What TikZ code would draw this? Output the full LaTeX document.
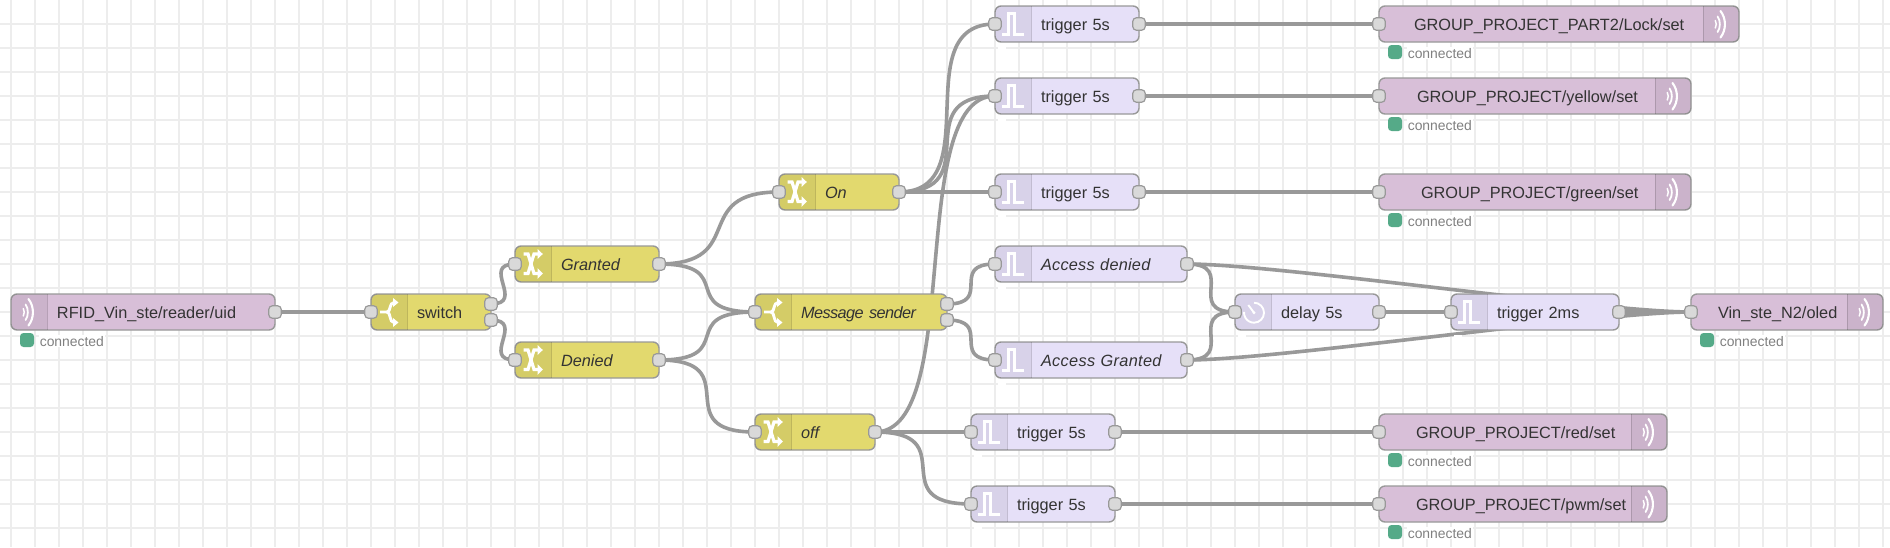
\documentclass[tikz,border=0pt]{standalone}
\usepackage{fontspec}
\setmainfont{Liberation Sans}
\usetikzlibrary{calc}
\pgfdeclarelayer{gridlayer}
\pgfdeclarelayer{wirelayer}
\pgfsetlayers{gridlayer,wirelayer,main}
\definecolor{mqttc}{HTML}{D8BFD8}
\definecolor{yelc}{HTML}{E2D96E}
\definecolor{trigc}{HTML}{E6E0F8}
\definecolor{dotc}{HTML}{55AA88}
\tikzset{
  x=1pt,y=-1pt,
  gridline/.style={draw=black!7,line width=1.7pt},
  wirestyle/.style={draw=black!40,line width=3.6pt},
  flowbody/.style={draw=black!40,line width=1.4pt,rounded corners=6pt,minimum height=36pt,
    inner xsep=0pt,inner ysep=0pt,outer sep=0pt,align=left,text height=12pt,text depth=0pt,
    text=black!80,font=\fontsize{16.3}{18}\selectfont},
  portbox/.style={draw=black!40,fill=black!15,line width=1.2pt,rounded corners=3.5pt,
    minimum width=12.4pt,minimum height=12.4pt,inner sep=0pt,outer sep=0pt},
  shade/.style={fill=black,fill opacity=.06},
  shadeline/.style={draw=black,draw opacity=.15,line width=1pt},
  iconline/.style={draw=white,line width=2.9pt},
  iconhead/.style={fill=white,draw=none},
  statusdot/.style={fill=dotc,draw=none,rounded corners=3.5pt,minimum size=14pt,inner sep=0pt},
  statustext/.style={anchor=base west,text=black!50,fill=white,inner sep=.6pt,font=\fontsize{13.9}{16}\selectfont},
}
\newcommand\wire[2]{\draw[wirestyle] let \p1=(#1.center),\p2=(#2.center),
  \n1={0.75*min(120,veclen(\x2-\x1,\y2-\y1))} in
  (#1.center) .. controls ([xshift=\n1]#1.center) and ([xshift=-\n1]#2.center) .. (#2.center);}
% name, left x, centre y, width, colour, text pad, text
\newcommand\flow[7]{\node[flowbody,fill=#5,minimum width=#4pt,text width=#4pt] (#1) at ({#2+#4/2},#3) {\hspace*{#6pt}#7};}
\newcommand\lshade[2]{\path[shade] (#1+36,#2-18) [rounded corners=6pt] -- (#1,#2-18) -- (#1,#2+18) [sharp corners] -- (#1+36,#2+18) -- cycle;
  \draw[shadeline] (#1+36,#2-18) -- (#1+36,#2+18);}
\newcommand\rshade[2]{\path[shade] (#1-36,#2-18) [rounded corners=6pt] -- (#1,#2-18) -- (#1,#2+18) [sharp corners] -- (#1-36,#2+18) -- cycle;
  \draw[shadeline] (#1-36,#2-18) -- (#1-36,#2+18);}
\newcommand\iconwave[2]{\begin{scope}[shift={(#1,#2-18)}]
  \draw[draw=white,line width=2.1pt,line cap=round] (17.5,5) .. controls (23.4,12.5) and (23.4,24) .. (17.5,31.5);
  \draw[draw=white,line width=1.8pt,line cap=round] (14.6,10.5) .. controls (17.6,14.5) and (17.6,22) .. (14.6,26);
  \draw[draw=white,line width=1.5pt,line cap=round] (12.3,14.5) .. controls (13.6,16.5) and (13.6,20) .. (12.3,22);
  \end{scope}}
\newcommand\iconswitch[2]{\begin{scope}[shift={(#1,#2-18)}]
  \draw[iconline] (9,18) -- (16,18) .. controls (20,18) and (18,8.5) .. (23,8.5);
  \draw[iconline] (16,18) .. controls (20,18) and (18,28.5) .. (23,28.5);
  \fill[iconhead] (22,4) -- (27.5,8.5) -- (22,13) -- cycle;
  \fill[iconhead] (22,24) -- (27.5,28.5) -- (22,33) -- cycle;
  \end{scope}}
\newcommand\iconchange[2]{\begin{scope}[shift={(#1,#2-18)}]
  \draw[draw=white,line width=3.2pt] (8.5,8) -- (13,8) -- (19,27.5) -- (23.5,27.5);
  \draw[draw=white,line width=3.2pt] (8.5,27.5) -- (13,27.5) -- (19,8) -- (23.5,8);
  \fill[iconhead] (22.5,3) -- (27.8,8) -- (22.5,13) -- cycle;
  \fill[iconhead] (22.5,22) -- (27.8,27.5) -- (22.5,33) -- cycle;
  \end{scope}}
\newcommand\icontrigger[2]{\begin{scope}[shift={(#1,#2-18)}]
  \draw[iconline] (7,28.3) -- (13.3,28.3) -- (13.3,7.5) -- (19.5,7.5) -- (19.5,28.3) -- (29.3,28.3);
  \fill[white] (3,41) rectangle (11,44.5);
  \end{scope}}
\newcommand\icondelay[2]{\begin{scope}[shift={(#1,#2-18)}]
  \draw[draw=white,line width=1.9pt] (19,8.7) arc[start angle=-90,end angle=185,radius=10];
  \draw[draw=white,line width=1.9pt] (19,18.7) -- (13.3,11);
  \fill[white] (19,18.7) circle (1.6);
  \fill[white] (3,41) rectangle (11,44.5);
  \end{scope}}
\newcommand\status[3]{\node[statusdot] (#1dot) at (#2+16,#3+46) {};
  \node[statustext] (#1stat) at (#2+28,#3+52) {connected};}
\newcommand\pin[1]{\node[portbox] (#1in) at (#1.west) {};}
\newcommand\pout[1]{\node[portbox] (#1out) at (#1.east) {};}
\begin{document}
\begin{tikzpicture}
\useasboundingbox (0,0) rectangle (1890,547);
\begin{pgfonlayer}{gridlayer}
  \fill[white] (0,0) rectangle (1890,547);
  \foreach \i in {0,...,78} \draw[gridline] ({11+24*\i},0) -- ({11+24*\i},547);
  \foreach \j in {1,...,22} \draw[gridline] (0,{24*\j}) -- (1890,{24*\j});
\end{pgfonlayer}

% left-icon nodes
\flow{rfid}{11}{312}{264}{mqttc}{46}{RFID\_Vin\_ste/reader/uid}
\lshade{11}{312}\iconwave{11}{312}\pout{rfid}\status{rfid}{11}{294}
\flow{sw}{371}{312}{120}{yelc}{46}{switch}
\lshade{371}{312}\iconswitch{371}{312}\pin{sw}
\node[portbox] (swoutA) at ([yshift=8pt]sw.east) {};
\node[portbox] (swoutB) at ([yshift=-8pt]sw.east) {};
\flow{gr}{515}{264}{144}{yelc}{46}{\textit{Granted}}
\lshade{515}{264}\iconchange{515}{264}\pin{gr}\pout{gr}
\flow{de}{515}{360}{144}{yelc}{46}{\textit{Denied}}
\lshade{515}{360}\iconchange{515}{360}\pin{de}\pout{de}
\flow{on}{779}{192}{120}{yelc}{46}{\textit{On}}
\lshade{779}{192}\iconchange{779}{192}\pin{on}\pout{on}
\flow{ms}{755}{312}{192}{yelc}{46}{\textit{\addfontfeature{LetterSpace=-3.5}Message sender}}
\lshade{755}{312}\iconswitch{755}{312}\pin{ms}
\node[portbox] (msoutA) at ([yshift=8pt]ms.east) {};
\node[portbox] (msoutB) at ([yshift=-8pt]ms.east) {};
\flow{of}{755}{432}{120}{yelc}{46}{\textit{off}}
\lshade{755}{432}\iconchange{755}{432}\pin{of}\pout{of}
% triggers
\flow{ta}{995}{24}{144}{trigc}{46}{trigger 5s}
\lshade{995}{24}\icontrigger{995}{24}\pin{ta}\pout{ta}
\flow{tb}{995}{96}{144}{trigc}{46}{trigger 5s}
\lshade{995}{96}\icontrigger{995}{96}\pin{tb}\pout{tb}
\flow{tc}{995}{192}{144}{trigc}{46}{trigger 5s}
\lshade{995}{192}\icontrigger{995}{192}\pin{tc}\pout{tc}
\flow{ad}{995}{264}{192}{trigc}{46}{\textit{\addfontfeature{LetterSpace=1.5}Access denied}}
\lshade{995}{264}\icontrigger{995}{264}\pin{ad}\pout{ad}
\flow{ag}{995}{360}{192}{trigc}{46}{\textit{\addfontfeature{LetterSpace=2}Access Granted}}
\lshade{995}{360}\icontrigger{995}{360}\pin{ag}\pout{ag}
\flow{dl}{1235}{312}{144}{trigc}{46}{delay 5s}
\lshade{1235}{312}\icondelay{1235}{312}\pin{dl}\pout{dl}
\flow{tm}{1451}{312}{168}{trigc}{46}{trigger 2ms}
\lshade{1451}{312}\icontrigger{1451}{312}\pin{tm}\pout{tm}
\flow{td}{971}{432}{144}{trigc}{46}{trigger 5s}
\lshade{971}{432}\icontrigger{971}{432}\pin{td}\pout{td}
\flow{te}{971}{504}{144}{trigc}{46}{trigger 5s}
\lshade{971}{504}\icontrigger{971}{504}\pin{te}\pout{te}
% MQTT out
\flow{ma}{1379}{24}{360}{mqttc}{35}{GROUP\_PROJECT\_PART2/Lock/set}
\rshade{1739}{24}\iconwave{1703}{24}\pin{ma}\status{ma}{1379}{6}
\flow{mb}{1379}{96}{312}{mqttc}{38}{GROUP\_PROJECT/yellow/set}
\rshade{1691}{96}\iconwave{1655}{96}\pin{mb}\status{mb}{1379}{78}
\flow{mc}{1379}{192}{312}{mqttc}{42}{GROUP\_PROJECT/green/set}
\rshade{1691}{192}\iconwave{1655}{192}\pin{mc}\status{mc}{1379}{174}
\flow{md}{1379}{432}{288}{mqttc}{37}{GROUP\_PROJECT/red/set}
\rshade{1667}{432}\iconwave{1631}{432}\pin{md}\status{md}{1379}{414}
\flow{me}{1379}{504}{288}{mqttc}{37}{GROUP\_PROJECT/pwm/set}
\rshade{1667}{504}\iconwave{1631}{504}\pin{me}\status{me}{1379}{486}
\flow{vn}{1691}{312}{192}{mqttc}{27}{Vin\_ste\_N2/oled}
\rshade{1883}{312}\iconwave{1847}{312}\pin{vn}\status{vn}{1691}{294}

\begin{pgfonlayer}{wirelayer}
  \wire{rfidout}{swin}
  \wire{swoutA}{grin}
  \wire{swoutB}{dein}
  \wire{grout}{onin}
  \wire{grout}{msin}
  \wire{deout}{msin}
  \wire{deout}{ofin}
  \wire{onout}{tain}
  \wire{onout}{tbin}
  \wire{onout}{tcin}
  \wire{ofout}{tbin}
  \wire{ofout}{tdin}
  \wire{ofout}{tein}
  \wire{msoutA}{adin}
  \wire{msoutB}{agin}
  \wire{adout}{dlin}
  \wire{agout}{dlin}
  \wire{adout}{vnin}
  \wire{agout}{vnin}
  \wire{dlout}{tmin}
  \wire{tmout}{vnin}
  \wire{taout}{main}
  \wire{tbout}{mbin}
  \wire{tcout}{mcin}
  \wire{tdout}{mdin}
  \wire{teout}{mein}
\end{pgfonlayer}
\end{tikzpicture}
\end{document}
